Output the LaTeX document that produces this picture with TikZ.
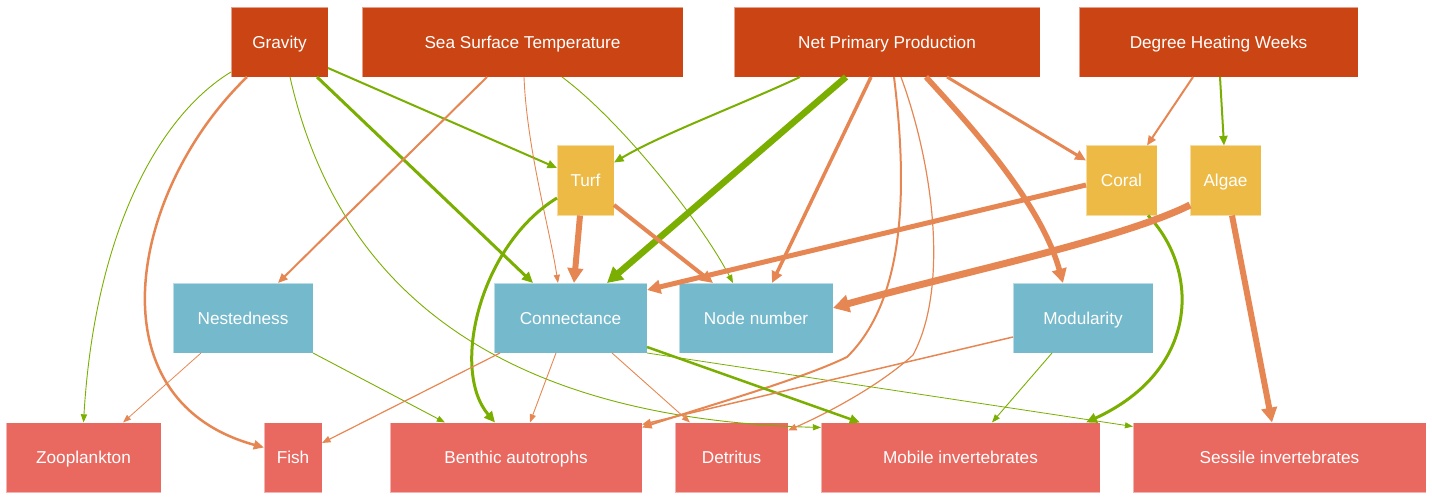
\documentclass[tikz,border=0pt]{standalone}
\usepackage{fontspec}
\setmainfont{Liberation Sans}
\usepackage{xcolor}
\usetikzlibrary{arrows.meta, positioning, calc}

\definecolor{drivercol}{HTML}{CB4514}
\definecolor{groupcol}{HTML}{EDBA45}
\definecolor{metriccol}{HTML}{74B9CC}
\definecolor{taxoncol}{HTML}{E9685F}
\definecolor{negcol}{HTML}{E68753}
\definecolor{poscol}{HTML}{7AAE00}

\begin{document}
\begin{tikzpicture}[
        x=1pt, y=-1pt,
        font=\fontsize{17.2}{20}\selectfont,
        >={Triangle[length=7pt 1.3, width=4.5pt 1.8]},
        box/.style={rectangle, draw=white, draw opacity=0.5, line width=0.6pt, text=white, inner sep=0pt, outer sep=0pt, minimum height=70pt, text height=12.4pt, text depth=0pt},
        driver/.style={box, fill=drivercol},
        group/.style={box, fill=groupcol},
        metric/.style={box, fill=metriccol},
        taxon/.style={box, fill=taxoncol},
        poslink/.style={->, draw=poscol},
        neglink/.style={->, draw=negcol}
    ]
    \useasboundingbox (0,0) rectangle (1432,500);

    % Drivers
    \node[driver, minimum width=97pt] (grav) at (279.5,42) {Gravity};
    \node[driver, minimum width=321pt] (sst) at (522.5,42) {Sea Surface Temperature};
    \node[driver, minimum width=306pt] (npp) at (887,42) {Net Primary Production};
    \node[driver, minimum width=279pt] (dhw) at (1218.5,42) {Degree Heating Weeks};

    % Benthic groups
    \node[group, minimum width=57pt] (turf) at (585.5,180.5) {Turf};
    \node[group, minimum width=71pt] (coral) at (1121.5,180.5) {Coral};
    \node[group, minimum width=71pt, right=33pt of coral] (algae) {Algae};

    % Network metrics
    \node[metric, minimum width=140pt] (nest) at (243,318) {Nestedness};
    \node[metric, minimum width=153pt] (conn) at (570.5,318) {Connectance};
    \node[metric, minimum width=154pt, right=32pt of conn] (nodenum) {Node number};
    \node[metric, minimum width=140pt] (modul) at (1083,318) {Modularity};

    % Trophic groups
    \node[taxon, minimum width=155pt] (zoo) at (83.5,457.5) {Zooplankton};
    \node[taxon, minimum width=58pt] (fish) at (293,457.5) {Fish};
    \node[taxon, minimum width=252pt] (benth) at (516,457.5) {Benthic autotrophs};
    \node[taxon, minimum width=113pt, right=33pt of benth] (detr) {Detritus};
    \node[taxon, minimum width=279pt, right=33pt of detr] (mobile) {Mobile invertebrates};
    \node[taxon, minimum width=293pt, right=33pt of mobile] (sessile) {Sessile invertebrates};

    % Gravity
    \draw[poslink, line width=0.9pt] ([yshift=5]grav.south west) .. controls (160,115) and (95,230) .. (zoo.north);
    \draw[neglink, line width=2.5pt] ([xshift=-32.5]grav.south) .. controls (130,190) and (90,400) .. ([yshift=10]fish.west);
    \draw[poslink, line width=0.9pt] ([xshift=10.5]grav.south) .. controls (345,320) and (540,420) .. ([yshift=-5]mobile.north west);
    \draw[poslink, line width=3pt] ([xshift=37.5]grav.south) -- ([xshift=-37.5]conn.north);
    \draw[poslink, line width=2pt] ([yshift=-26]grav.east) -- ([yshift=12.5]turf.west);

    % Sea surface temperature
    \draw[neglink, line width=2pt] ([xshift=-35.5]sst.south) -- ([xshift=35]nest.north);
    \draw[neglink, line width=0.9pt] ([xshift=1.5]sst.south) .. controls (527,150) and (550,230) .. ([xshift=-12.5]conn.north);
    \draw[poslink, line width=0.9pt] ([xshift=39.5]sst.south) .. controls (620,120) and (700,220) .. ([xshift=-23]nodenum.north);

    % Net primary production
    \draw[poslink, line width=2pt] ([xshift=-87]npp.south) .. controls (740,105) and (660,135) .. ([yshift=18]turf.east);
    \draw[poslink, line width=6.5pt] ([xshift=-41]npp.south) -- ([xshift=36.5]conn.north);
    \draw[neglink, line width=3.5pt] ([xshift=-16]npp.south) -- ([xshift=16]nodenum.north);
    \draw[neglink, line width=2pt] ([xshift=7]npp.south) .. controls (908,190) and (905,300) .. (847,357) .. controls (800,380) and (700,408) .. ([yshift=-5]benth.north east);
    \draw[neglink, line width=1.2pt] ([xshift=14]npp.south) .. controls (935,170) and (948,290) .. (913,355) .. controls (880,385) and (830,412) .. ([yshift=-8]detr.north east);
    \draw[neglink, line width=5.5pt] ([xshift=39]npp.south) .. controls (965,120) and (1040,200) .. ([xshift=-20]modul.north);
    \draw[neglink, line width=3pt] ([xshift=60]npp.south) -- ([yshift=20]coral.west);

    % Degree heating weeks
    \draw[neglink, line width=2pt] ([xshift=-25.5]dhw.south) -- ([xshift=25.5]coral.north);
    \draw[poslink, line width=2pt] ([xshift=1.5]dhw.south) -- ([xshift=-1.5]algae.north);

    % Turf, coral and algae
    \draw[poslink, line width=3pt] ([yshift=-17.5]turf.west) .. controls (480,245) and (450,370) .. ([xshift=-21]benth.north);
    \draw[neglink, line width=6pt] ([xshift=-5.5]turf.south) -- ([xshift=3.5]conn.north);
    \draw[neglink, line width=4pt] ([yshift=-24.5]turf.east) -- ([xshift=-43]nodenum.north);
    \draw[neglink, line width=5pt] ([yshift=-4.5]coral.west) -- ([yshift=28]conn.east);
    \draw[poslink, line width=3pt] ([xshift=26.5]coral.south) .. controls (1200,270) and (1200,370) .. ([xshift=125.5]mobile.north);
    \draw[neglink, line width=7pt] ([yshift=-24.5]algae.west) .. controls (1120,240) and (950,275) .. ([yshift=10]nodenum.east);
    \draw[neglink, line width=6pt] ([xshift=6.5]algae.south) -- ([xshift=-7.5]sessile.north);

    % Network metrics to trophic groups
    \draw[neglink, line width=0.8pt] ([xshift=-42]nest.south) -- ([xshift=39.5]zoo.north);
    \draw[poslink, line width=0.9pt] (nest.south east) -- ([xshift=-71]benth.north);
    \draw[neglink, line width=1.2pt] ([xshift=-70.5]conn.south) -- ([yshift=14.5]fish.east);
    \draw[neglink, line width=0.9pt] ([xshift=-14.5]conn.south) -- ([xshift=14]benth.north);
    \draw[neglink, line width=0.9pt] ([xshift=41.5]conn.south) -- ([xshift=-41.5]detr.north);
    \draw[poslink, line width=2.5pt] ([yshift=-29]conn.east) -- ([xshift=-100.5]mobile.north);
    \draw[poslink, line width=0.8pt] (conn.south east) -- ([yshift=-4]sessile.north west);
    \draw[neglink, line width=1.5pt] ([yshift=-19]modul.west) -- ([yshift=-2]benth.north east);
    \draw[poslink, line width=0.9pt] ([xshift=-31]modul.south) -- ([xshift=31.5]mobile.north);

\end{tikzpicture}
\end{document}
